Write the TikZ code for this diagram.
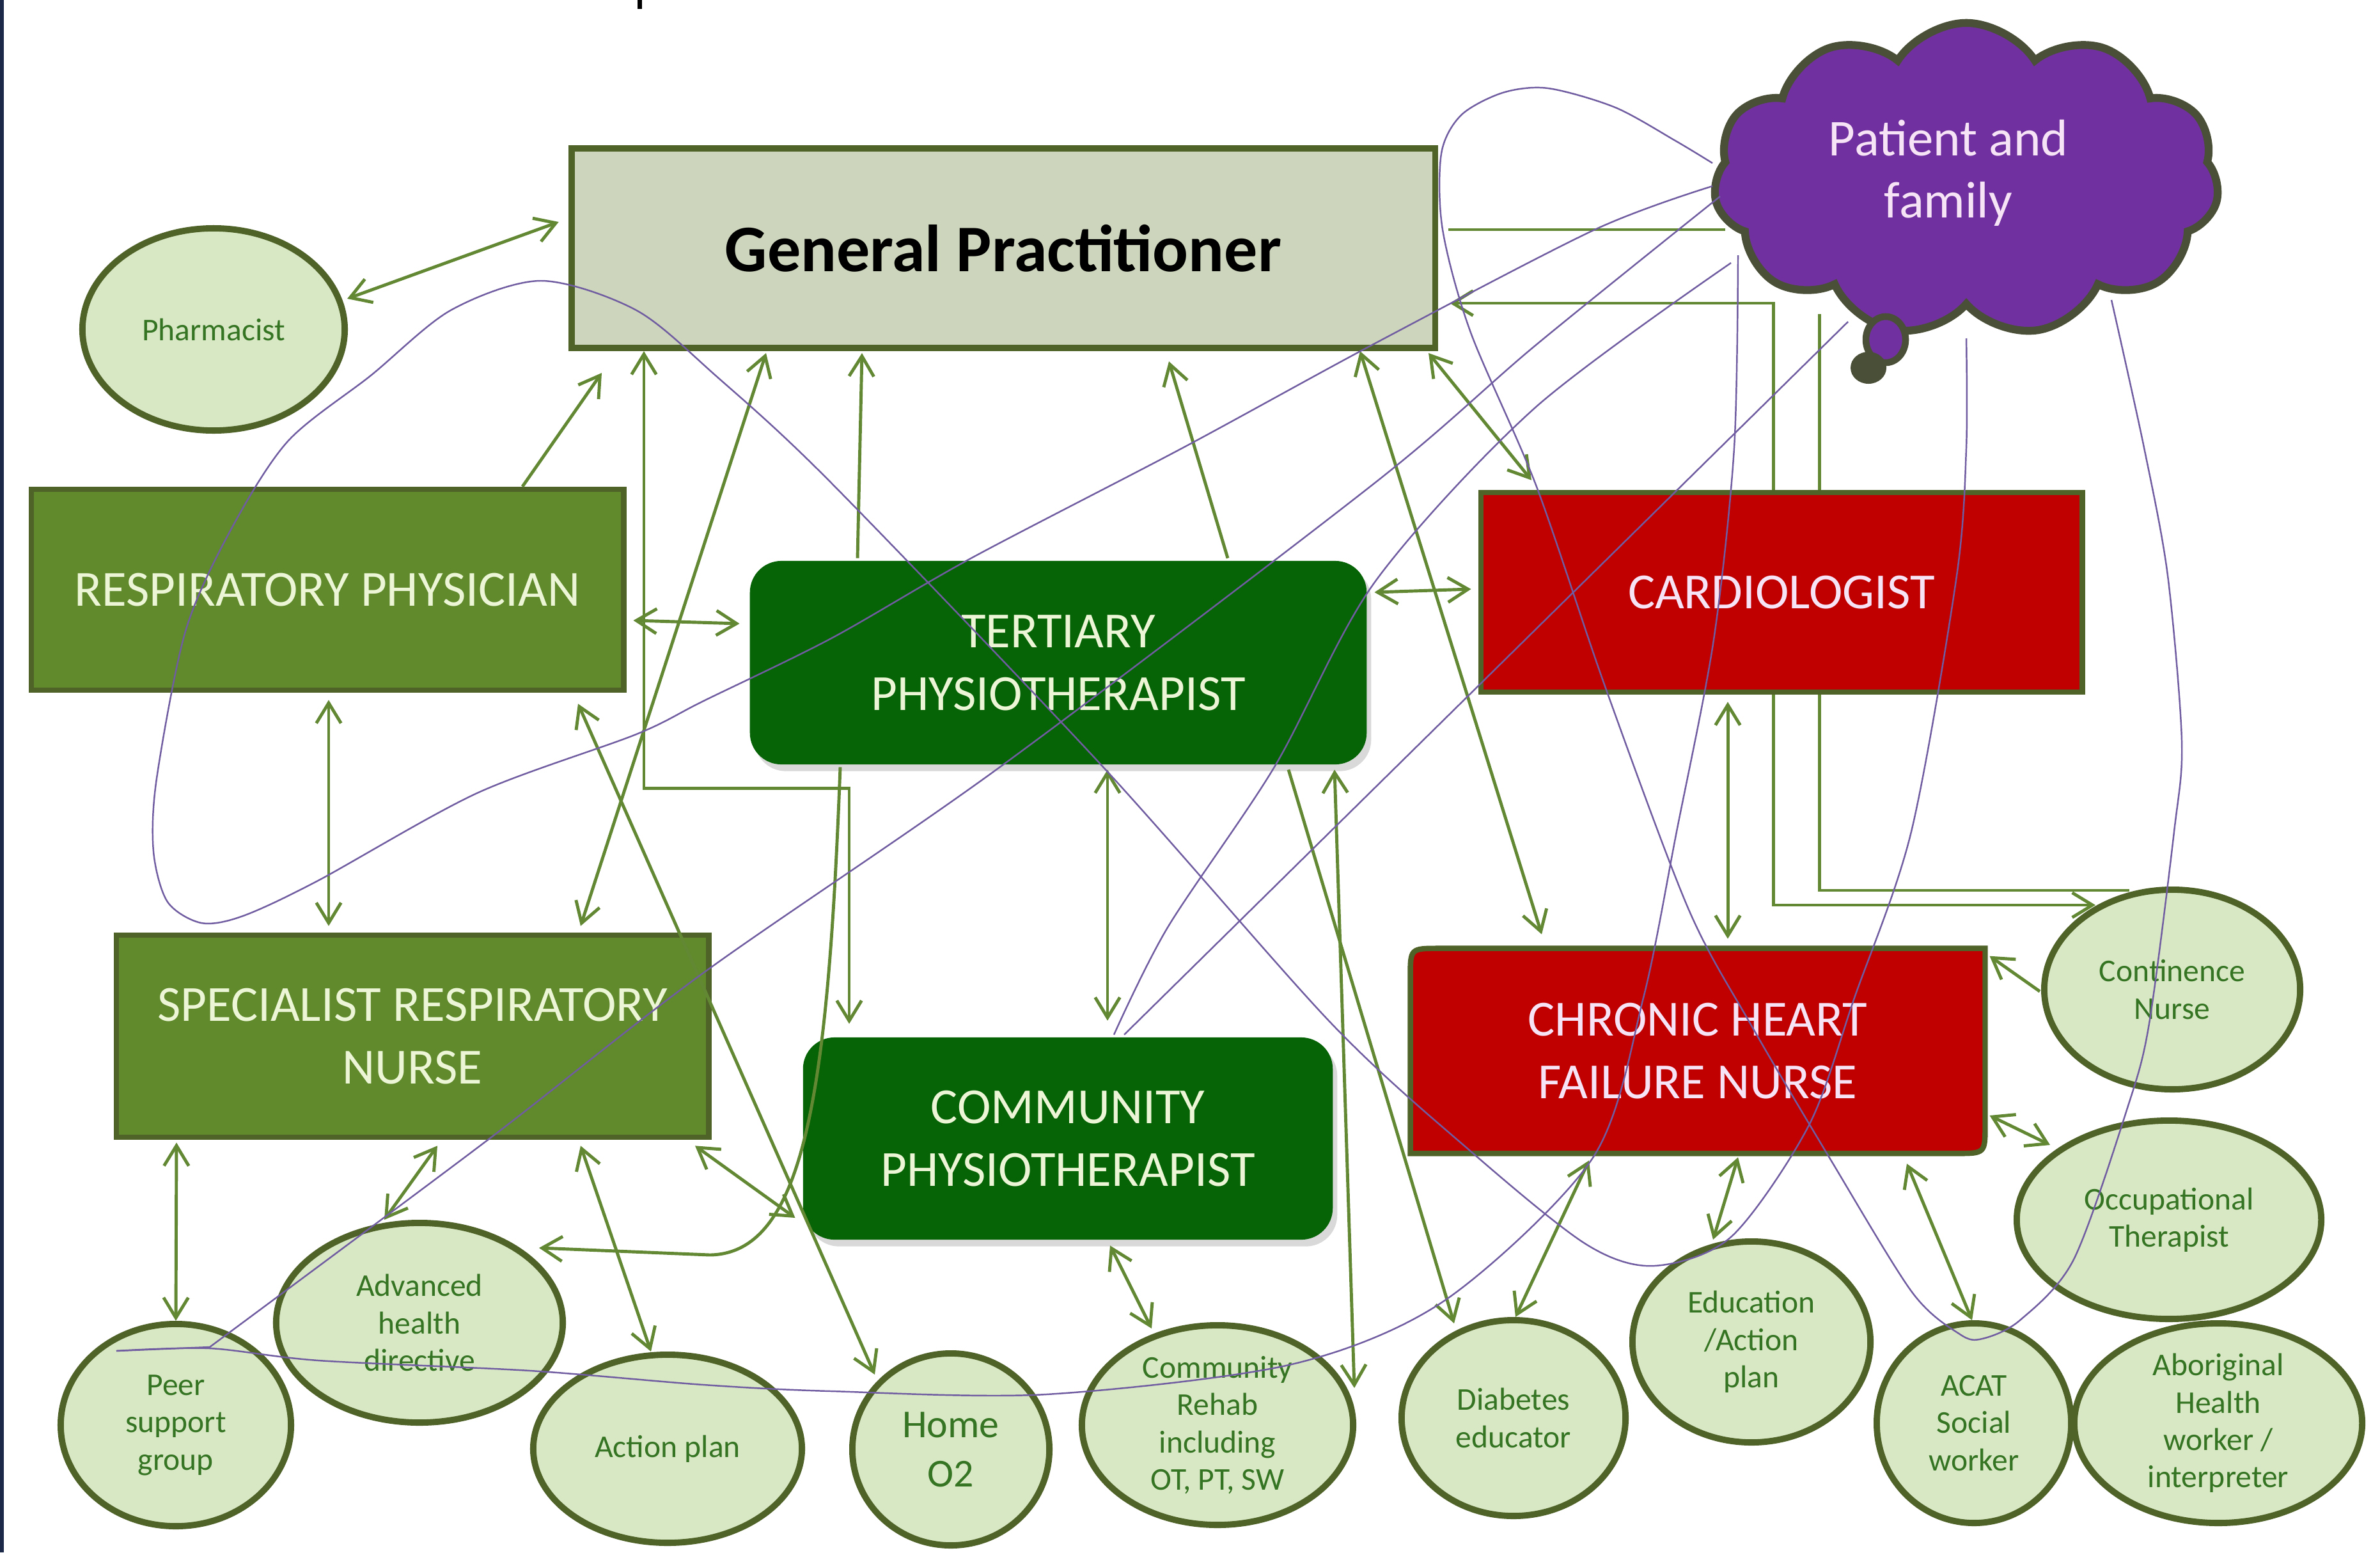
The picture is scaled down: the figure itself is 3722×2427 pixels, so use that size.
\documentclass[tikz,border=0pt]{standalone}
\usepackage{fontspec}
\setmainfont{Carlito}
\usetikzlibrary{shapes.geometric,shapes.symbols,arrows.meta,calc,shadows,backgrounds}
\definecolor{gpfill}{RGB}{205,214,188}
\definecolor{edgegreen}{RGB}{79,98,40}
\definecolor{respgreen}{RGB}{96,138,44}
\definecolor{physgreen}{RGB}{6,100,6}
\definecolor{cardred}{RGB}{192,0,0}
\definecolor{rolefill}{RGB}{217,232,196}
\definecolor{roletext}{RGB}{52,116,34}
\definecolor{linkgreen}{RGB}{98,136,52}
\definecolor{famline}{RGB}{112,92,160}
\definecolor{cloudfill}{RGB}{112,48,160}
\definecolor{cloudedge}{RGB}{74,80,56}
\definecolor{boxtext}{RGB}{236,246,214}
\definecolor{cloudtext}{RGB}{246,228,246}
\definecolor{stripnavy}{RGB}{28,40,72}
\newcommand{\boxfont}{\fontsize{22.5}{27.8}\selectfont}
\newcommand{\rolefont}{\fontsize{14.1}{16.6}\selectfont}

\begin{document}
\begin{tikzpicture}[
    x=0.01cm, y=-0.01cm,
    box/.style={rectangle, draw=edgegreen, line width=2.4pt, align=center, font=\boxfont, text=boxtext, inner sep=0pt},
    gpbox/.style={box, fill=gpfill, line width=2.8pt, text=black, font=\fontsize{29.6}{36}\selectfont\bfseries},
    respbox/.style={box, fill=respgreen},
    physbox/.style={box, draw=none, fill=physgreen, rounded corners=14pt, drop shadow={opacity=0.3, shadow xshift=2pt, shadow yshift=-3pt}},
    cardbox/.style={box, fill=cardred},
    role/.style={ellipse, draw=edgegreen, line width=2.8pt, fill=rolefill, text=roletext, align=center, font=\rolefont, inner sep=0pt},
    link/.style={draw=linkgreen, line width=1.4pt},
    twoway/.style={link, {Straight Barb[length=9pt,width=11pt]}-{Straight Barb[length=9pt,width=11pt]}},
    oneway/.style={link, -{Straight Barb[length=9pt,width=11pt]}},
    family/.style={draw=famline, line width=0.7pt}
]
    \useasboundingbox (0,0) rectangle (3722,2427);
    \fill[stripnavy] (0,0) rectangle (6,2427);
    \fill[black] (997,0) rectangle (1004,14);

    \node[gpbox, minimum width=13.5cm, minimum height=3.12cm] (gp) at (1569,388) {General Practitioner};
    \node[cloud, cloud puffs=11, cloud puff arc=115, aspect=1.6, minimum width=7.9cm, minimum height=4.9cm,
          fill=cloudfill, draw=cloudedge, line width=3.5pt] (cloud) at (3075,281) {};
    \node[text=cloudtext, align=center, font=\fontsize{23}{27.6}\selectfont] (famlabel) at (3047,270) {Patient and\\family};
    \node[ellipse, fill=cloudfill, draw=cloudedge, line width=3pt, minimum width=0.62cm, minimum height=0.72cm] (tail) at (2949,531) {};
    \node[ellipse, fill=cloudedge, minimum width=0.56cm, minimum height=0.5cm] (tailtip) at (2922,575) {};

    \node[role, minimum width=4.1cm, minimum height=3.16cm] (pharm) at (334,515) {Pharmacist};
    \node[role, minimum width=4.0cm, minimum height=3.12cm] (cont) at (3397,1547) {Continence\\Nurse};
    \node[role, minimum width=4.76cm, minimum height=3.1cm] (occ) at (3392,1907) {Occupational\\Therapist};
    \node[role, minimum width=3.6cm, minimum height=3.16cm] (peer) at (275,2228) {Peer\\support\\group};
    \node[role, minimum width=4.48cm, minimum height=3.12cm] (ahd) at (656,2068) {Advanced\\health\\directive};
    \node[role, minimum width=4.2cm, minimum height=2.94cm] (actplan) at (1044,2265) {Action plan};
    \node[role, minimum width=3.08cm, minimum height=3.0cm, font=\fontsize{17.6}{21.8}\selectfont] (homeo) at (1487,2266) {Home\\O2};
    \node[role, minimum width=4.24cm, minimum height=3.12cm] (rehab) at (1904,2228) {Community\\Rehab\\including\\OT, PT, SW};
    \node[role, minimum width=3.5cm, minimum height=3.06cm] (diab) at (2367,2217) {Diabetes\\educator};
    \node[role, minimum width=3.72cm, minimum height=3.14cm] (educ) at (2739,2098) {Education\\/Action\\plan};
    \node[role, minimum width=3.04cm, minimum height=3.12cm] (acat) at (3087,2225) {ACAT\\Social\\worker};
    \node[role, minimum width=4.5cm, minimum height=3.12cm] (abor) at (3469,2225) {Aboriginal\\Health\\worker /\\interpreter};

    \draw[twoway] ($(gp.east)+(18,86)$) -| ($(cont)+(-624,-132)$) -- ($(cont)+(-120,-132)$);
    \draw[link] ($(cloud)+(-230,210)$) |- ($(cont)+(-67,-155)$);
    \draw[link] ($(gp.east)+(16,-29)$) -- ($(cloud)+(-377,78)$);

    \node[respbox, minimum width=9.26cm, minimum height=3.14cm] (resp) at (512,922) {RESPIRATORY PHYSICIAN};
    \node[respbox, minimum width=9.26cm, minimum height=3.16cm] (srn) at (645,1620) {SPECIALIST RESPIRATORY\\NURSE};
    \node[physbox, minimum width=9.64cm, minimum height=3.18cm] (tert) at (1655,1036) {TERTIARY\\PHYSIOTHERAPIST};
    \node[physbox, minimum width=8.28cm, minimum height=3.16cm] (commp) at (1670,1780) {COMMUNITY\\PHYSIOTHERAPIST};
    \node[cardbox, text=cloudtext, minimum width=9.4cm, minimum height=3.12cm] (cardio) at (2786,926) {CARDIOLOGIST};
    \node[box, draw=none, text=cloudtext, minimum width=8.9cm, minimum height=3.12cm] (chf) at (2655,1643) {CHRONIC HEART\\FAILURE NURSE};
    \begin{scope}[on background layer]
        \filldraw[fill=cardred, draw=edgegreen, line width=2.4pt] (chf.south west) -- ($(chf.north west)+(0,45)$)
            .. controls (chf.north west) .. ($(chf.north west)+(45,0)$) -- (chf.north east)
            -- ($(chf.south east)+(0,-45)$) .. controls (chf.south east) .. ($(chf.south east)+(-45,0)$) -- cycle;
    \end{scope}

    \draw[twoway] ($(pharm)+(209,-48)$) -- ($(gp.west)+(-15,-41)$);
    \draw[oneway] ($(resp.north)+(305,0)$) -- ($(gp.south)+(-628,34)$);
    \draw[twoway] ($(gp.south)+(-562,0)$) |- ($(commp.north)+(-342,-385)$) -- ($(commp.north)+(-342,-17)$);
    \draw[twoway] ($(srn.north)+(263,-10)$) -- ($(gp.south)+(-371,3)$);
    \draw[oneway] ($(tert.north)+(-314,0)$) -- ($(gp.south)+(-221,3)$);
    \draw[oneway] ($(tert.north)+(265,0)$) -- ($(gp.south)+(259,16)$);
    \draw[twoway] ($(gp.south)+(558,0)$) -- ($(chf.north)+(-244,-22)$);
    \draw[twoway] ($(gp.south)+(665,3)$) -- ($(cardio.north)+(-391,-15)$);
    \draw[twoway] ($(resp.east)+(11,48)$) -- ($(tert.west)+(-12,-61)$);
    \draw[twoway] ($(resp.south)+(2,11)$) -- ($(srn.north)+(-131,-10)$);
    \draw[twoway] ($(resp.south)+(392,17)$) -- ($(homeo)+(-119,-117)$);
    \draw[twoway] ($(srn.south)+(442,9)$) -- ($(commp.west)+(-8,124)$);
    \draw[twoway] ($(srn.south)+(-369,4)$) -- (peer.north);
    \draw[twoway] ($(srn.south)+(39,9)$) -- ($(ahd.north)+(-55,0)$);
    \draw[twoway] ($(srn.south)+(263,9)$) -- ($(actplan.north)+(-26,0)$);
    \draw[oneway] ($(tert.south)+(-341,0)$) .. controls (1295,1700) and (1260,1960) .. (1110,1962) -- ($(ahd)+(187,-117)$);
    \draw[twoway] ($(tert.south)+(77,4)$) -- ($(commp.north)+(62,-22)$);
    \draw[oneway] ($(tert.south)+(360,4)$) -- ($(diab)+(-93,-148)$);
    \draw[twoway] ($(tert.south)+(432,4)$) -- ($(rehab)+(214,-58)$);
    \draw[twoway] ($(commp.south)+(66,5)$) -- ($(rehab)+(-103,-151)$);
    \draw[twoway] ($(tert.east)+(8,-110)$) -- ($(cardio.west)+(-11,-5)$);
    \draw[twoway] ($(cardio.south)+(-84,11)$) -- ($(chf.north)+(47,-15)$);
    \draw[oneway] ($(cont)+(-207,3)$) -- ($(chf.north east)+(7,12)$);
    \draw[twoway] ($(chf.east)+(7,101)$) -- ($(occ)+(-186,-117)$);
    \draw[twoway] ($(chf.south)+(-170,11)$) -- ($(diab.north)+(3,0)$);
    \draw[twoway] ($(chf.south)+(63,6)$) -- ($(educ)+(-60,-160)$);
    \draw[twoway] ($(chf.south)+(327,16)$) -- ($(acat.north)+(-3,0)$);

    \coordinate (famA) at ($(cloud)+(-397,10)$);
    \coordinate (famAend) at ($(cloud)+(0,248)$);
    \coordinate (famB) at ($(cloud)+(-397,-26)$);
    \coordinate (famBend) at ($(cloud)+(227,188)$);
    \coordinate (famC) at ($(cloud)+(-385,26)$);
    \coordinate (famCend) at ($(cloud)+(-357,118)$);
    \coordinate (famD) at ($(cloud)+(-368,130)$);
    \coordinate (famE) at ($(cloud)+(-185,222)$);
    \coordinate (peertip) at ($(peer)+(-93,-116)$);

    \draw[family] plot[smooth] coordinates {(famA) (2494,359) (2150,537) (1850,700) (1520,872) (1300,998) (1100,1096)
        (995,1148) (746,1240) (497,1377) (380,1432) (315,1443) (262,1410) (240,1331) (245,1217) (290,987) (360,830)
        (450,690) (580,587) (705,485) (846,439) (995,485) (1119,587) (1300,755) (1725,1199) (2082,1600) (2300,1800)
        (2480,1945) (2587,1979) (2708,1933) (2829,1759) (2900,1560) (2989,1300) (3060,900) (3075,700) (famAend)};
    \draw[family] plot[smooth] coordinates {(famB) (2620,220) (2526,168) (2421,138) (2350,145) (2285,180) (2254,240)
        (2256,359) (2300,520) (2403,761) (2510,1073) (2640,1420) (2737,1600) (2861,1810) (2990,2020) (3065,2086)
        (3100,2093) (3159,2064) (3243,1969) (3327,1732) (3361,1600) (3400,1300) (3412,1159) (3390,900) (3353,700) (famBend)};
    \draw[family] plot[smooth] coordinates {(famC) (2400,541) (2150,755) (1564,1199) (1100,1521) (763,1782) (328,2106)} -- (peertip);
    \draw[family] plot[smooth] coordinates {(peertip) (328,2108) (498,2127) (829,2143) (1100,2165) (1300,2175) (1636,2180)
        (2020,2133) (2261,2032) (2491,1810) (2570,1560) (2622,1300) (2680,1000) (2712,700) (famCend)};
    \draw[family] plot[smooth] coordinates {(famD) (2400,638) (2150,910) (1993,1199) (1826,1450) ($(commp.north)+(72,0)$)};
    \draw[family] (famE) -- ($(commp.north)+(88,0)$);
\end{tikzpicture}
\end{document}
